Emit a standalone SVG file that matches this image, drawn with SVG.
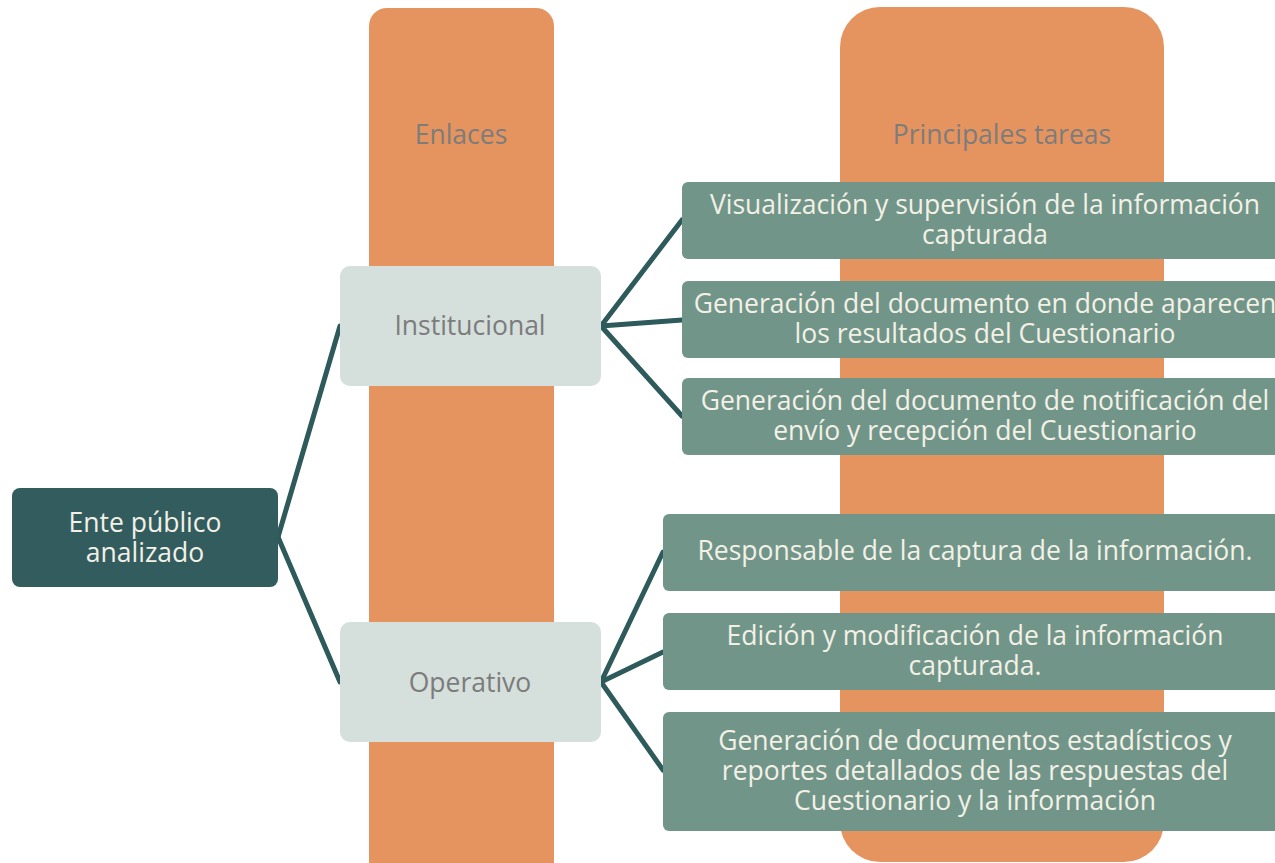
<svg xmlns="http://www.w3.org/2000/svg" width="1275" height="863" viewBox="0 0 1275 863">
<style>
.col{fill:#e5945f}
.hdr{font-family:"Open Sans","Liberation Sans",sans-serif;font-size:26.5px;fill:#7c7c7c;text-anchor:middle}
.mid{fill:#d5dfdb}
.midt{font-family:"Open Sans","Liberation Sans",sans-serif;font-size:26.5px;fill:#7c7c7c;text-anchor:middle}
.task{fill:#72958a}
.tt{font-family:"Open Sans","Liberation Sans",sans-serif;font-size:26.5px;fill:#f3f1e6;text-anchor:middle}
.root{fill:#335c5f}
.conn line{stroke:#2e5a5c;stroke-width:5;stroke-linecap:round}
</style>
<rect width="1275" height="863" fill="#ffffff"/>
<g id="col-enlaces"><rect class="col" x="369" y="8" width="185" height="880" rx="18"/><text class="hdr" x="461" y="144">Enlaces</text></g>
<g id="col-tareas"><rect class="col" x="840" y="7" width="324" height="855" rx="40"/><text class="hdr" x="1002" y="144">Principales tareas</text></g>
<g class="conn" id="connectors">
<line x1="278" y1="537" x2="340" y2="326"/>
<line x1="278" y1="537" x2="340" y2="682"/>
<line x1="601" y1="326" x2="682" y2="220"/>
<line x1="601" y1="326" x2="682" y2="320"/>
<line x1="601" y1="326" x2="682" y2="416"/>
<line x1="601" y1="682" x2="663" y2="552"/>
<line x1="601" y1="682" x2="663" y2="652"/>
<line x1="601" y1="682" x2="663" y2="770"/>
</g>
<g id="root"><rect class="root" x="12" y="488" width="266" height="99" rx="8"/><text class="tt" x="145" y="532">Ente público</text><text class="tt" x="145" y="562">analizado</text></g>
<g id="institucional"><rect class="mid" x="340" y="266" width="261" height="120" rx="10"/><text class="midt" x="470" y="335">Institucional</text></g>
<g id="operativo"><rect class="mid" x="340" y="622" width="261" height="120" rx="10"/><text class="midt" x="470" y="692">Operativo</text></g>
<g id="t1"><rect class="task" x="682" y="182" width="600" height="77" rx="6"/><text class="tt" x="985" y="214">Visualización y supervisión de la información</text><text class="tt" x="985" y="244">capturada</text></g>
<g id="t2"><rect class="task" x="682" y="281" width="600" height="77" rx="6"/><text class="tt" x="985" y="313">Generación del documento en donde aparecen</text><text class="tt" x="985" y="343">los resultados del Cuestionario</text></g>
<g id="t3"><rect class="task" x="682" y="378" width="600" height="77" rx="6"/><text class="tt" x="985" y="410">Generación del documento de notificación del</text><text class="tt" x="985" y="440">envío y recepción del Cuestionario</text></g>
<g id="t4"><rect class="task" x="663" y="514" width="620" height="77" rx="6"/><text class="tt" x="975" y="560">Responsable de la captura de la información.</text></g>
<g id="t5"><rect class="task" x="663" y="613" width="620" height="77" rx="6"/><text class="tt" x="975" y="645">Edición y modificación de la información</text><text class="tt" x="975" y="675">capturada.</text></g>
<g id="t6"><rect class="task" x="663" y="712" width="620" height="119" rx="6"/><text class="tt" x="975" y="750">Generación de documentos estadísticos y</text><text class="tt" x="975" y="780">reportes detallados de las respuestas del</text><text class="tt" x="975" y="810">Cuestionario y la información</text></g>
</svg>
